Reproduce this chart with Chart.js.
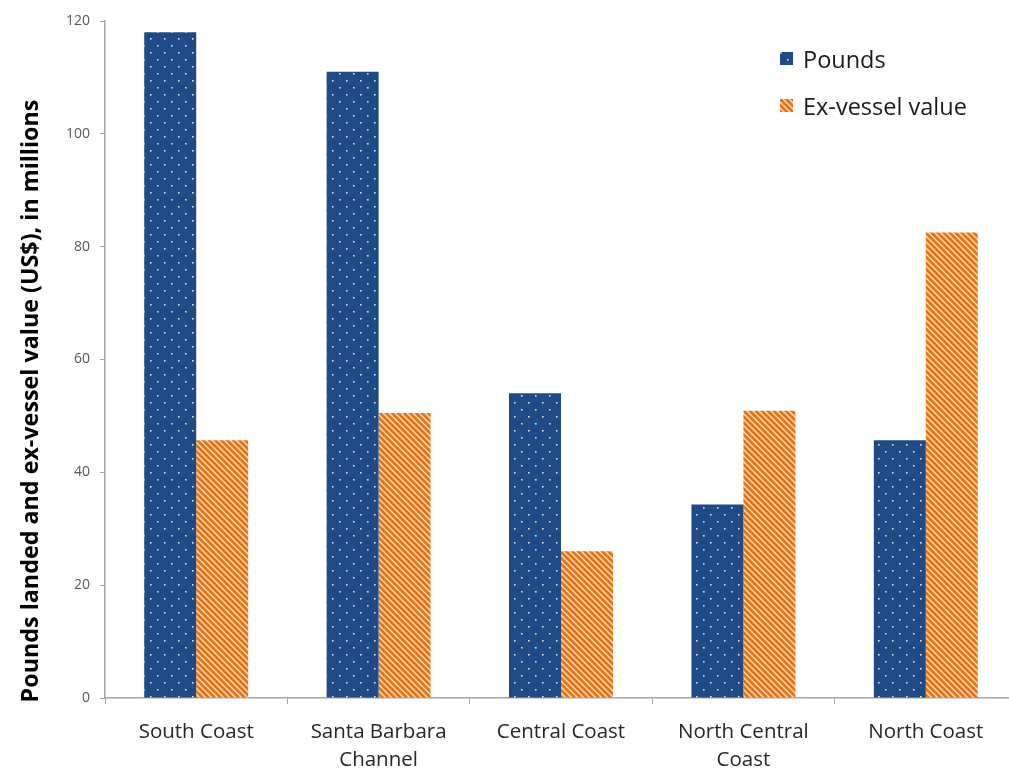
<!DOCTYPE html>
<html>
<head>
<meta charset="utf-8">
<script src="https://cdn.jsdelivr.net/npm/chart.js@4.4.1/dist/chart.umd.min.js"></script>
<style>
    html, body { margin: 0; padding: 0; background: #fff; overflow: hidden; }
    #wrap { width: 1017px; height: 769px; }
</style>
</head>
<body>
<div id="wrap"><canvas id="barChart" width="1017" height="769"></canvas></div>
<script>
// data (millions)
var regions = [['South Coast'], ['Santa Barbara', 'Channel'], ['Central Coast'], ['North Central', 'Coast'], ['North Coast']];
var pounds = [118, 111, 54, 34.3, 45.7];
var exVessel = [45.7, 50.5, 26, 50.9, 82.5];
var yTicks = [0, 20, 40, 60, 80, 100, 120];
var yTitle = 'Pounds landed and ex-vessel value (US$), in millions';

function dotPattern() {
    var c = document.createElement('canvas');
    c.width = 14; c.height = 14;
    var g = c.getContext('2d');
    g.fillStyle = '#1f4a86';
    g.fillRect(0, 0, 14, 14);
    g.fillStyle = 'rgba(255,255,255,0.85)';
    g.fillRect(3, 3, 1.6, 1.6);
    g.fillRect(10, 10, 1.6, 1.6);
    return g.createPattern(c, 'repeat');
}

function stripePattern() {
    var c = document.createElement('canvas');
    c.width = 6; c.height = 6;
    var g = c.getContext('2d');
    g.fillStyle = '#e9730f';
    g.fillRect(0, 0, 6, 6);
    g.strokeStyle = 'rgba(255,240,225,0.9)';
    g.lineWidth = 1.3;
    g.beginPath();
    g.moveTo(-1, -1); g.lineTo(7, 7);
    g.moveTo(-4, 2); g.lineTo(4, 10);
    g.moveTo(2, -4); g.lineTo(10, 4);
    g.stroke();
    return g.createPattern(c, 'repeat');
}

var bluePat = dotPattern();
var orangePat = stripePattern();
var fontFam = '"Open Sans", Lato, sans-serif';

// legend and axis title drawn by hand, placed like the original
var extras = {
    id: 'extras',
    afterDraw: function (chart) {
        var ctx = chart.ctx;
        var items = [
            { label: 'Pounds', fill: bluePat, y: 61 },
            { label: 'Ex-vessel value', fill: orangePat, y: 108 }
        ];
        ctx.save();
        ctx.font = '23.5px ' + fontFam;
        ctx.textBaseline = 'middle';
        items.forEach(function (it) {
            ctx.fillStyle = it.fill;
            ctx.fillRect(780, it.y - 9, 13, 13);
            ctx.fillStyle = '#1a1a1a';
            ctx.fillText(it.label, 803, it.y);
        });
        ctx.restore();

        ctx.save();
        ctx.translate(31, 401);
        ctx.rotate(-Math.PI / 2);
        ctx.font = 'bold 23.3px ' + fontFam;
        ctx.fillStyle = '#000';
        ctx.textAlign = 'center';
        ctx.textBaseline = 'middle';
        ctx.fillText(yTitle, 0, 0);
        ctx.restore();
    }
};

var ctx1 = document.getElementById('barChart').getContext('2d');
var barChart1 = new Chart(ctx1, {
    type: 'bar',
    data: {
        labels: regions,
        datasets: [{
            label: 'Pounds',
            data: pounds,
            backgroundColor: bluePat,
            borderWidth: 0,
            categoryPercentage: 0.57,
            barPercentage: 1
        }, {
            label: 'Ex-vessel value',
            data: exVessel,
            backgroundColor: orangePat,
            borderWidth: 0,
            categoryPercentage: 0.57,
            barPercentage: 1
        }]
    },
    options: {
        responsive: false,
        animation: false,
        layout: { padding: { top: 21, left: 0, right: 0, bottom: 0 } },
        plugins: {
            legend: { display: false },
            tooltip: { enabled: false }
        },
        scales: {
            x: {
                offset: true,
                grid: {
                    offset: true,
                    drawOnChartArea: false,
                    drawTicks: true,
                    tickLength: 6,
                    color: '#a6a6a6'
                },
                border: { color: '#a6a6a6', width: 1.5 },
                ticks: {
                    color: '#262626',
                    padding: 14,
                    maxRotation: 0,
                    font: { size: 20.5, family: fontFam, lineHeight: 1.38 }
                },
                afterFit: function (scale) { scale.height = 71; }
            },
            y: {
                min: 0,
                max: 120,
                afterBuildTicks: function (scale) {
                    scale.ticks = yTicks.map(function (v) { return { value: v }; });
                },
                grid: {
                    drawOnChartArea: false,
                    drawTicks: true,
                    tickLength: 5,
                    color: '#a6a6a6'
                },
                border: { color: '#a6a6a6', width: 1.5 },
                ticks: {
                    color: '#595959',
                    padding: 10,
                    font: { size: 14, family: fontFam }
                },
                afterFit: function (scale) { scale.width = 105; }
            }
        }
    },
    plugins: [extras]
});
</script>
</body>
</html>
